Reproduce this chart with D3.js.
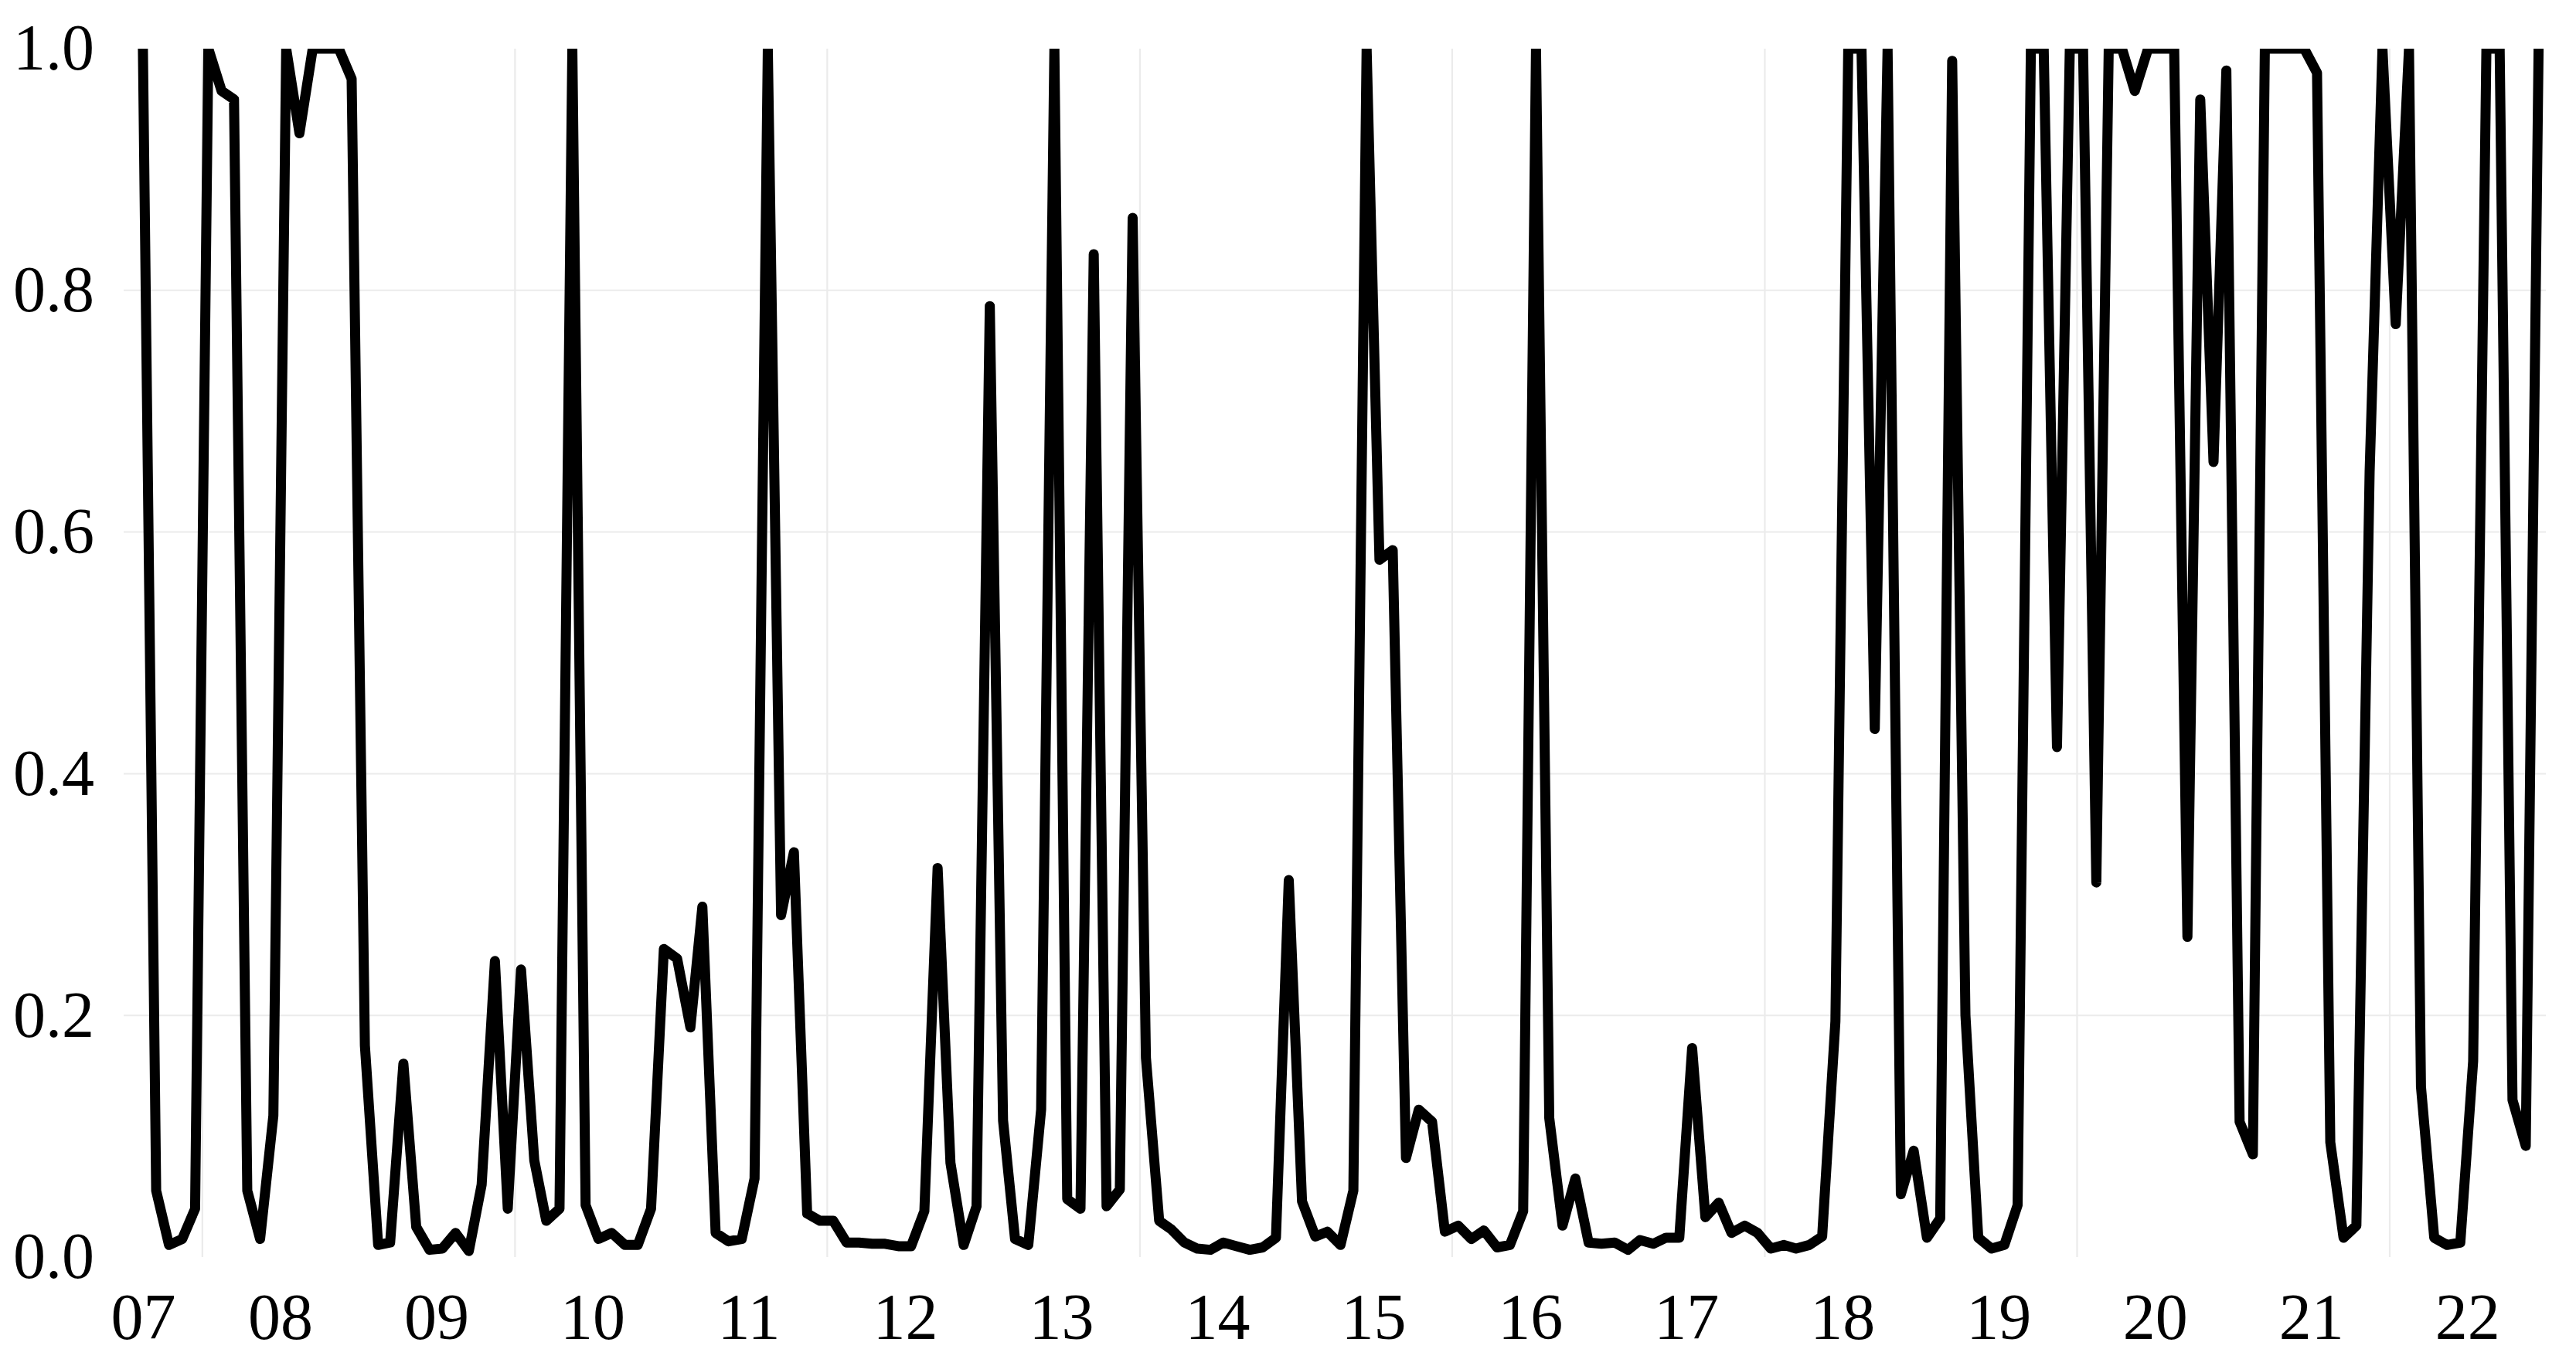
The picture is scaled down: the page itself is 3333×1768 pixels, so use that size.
<!DOCTYPE html>
<html>
<head>
<meta charset="utf-8">
<script src="https://cdn.jsdelivr.net/npm/d3@7"></script>
<style>
  html, body { margin: 0; padding: 0; background: #ffffff; }
  svg { display: block; }
</style>
</head>
<body>
<svg id="chart" width="3333" height="1768"></svg>
<script>
// ---------------- data ----------------
// monthly series, first observation August 2007, last December 2022
const startYear = 2007;
const startMonthIndex = 7; // August (0-based)
const values = [
  1.0, 0.055, 0.01, 0.015, 0.04, 1.0, 0.965, 0.958, 0.055, 0.015,
  0.117, 1.0, 0.93, 1.0, 1.0, 1.0, 0.975, 0.175, 0.01, 0.012,
  0.16, 0.025, 0.006, 0.007, 0.02, 0.005, 0.06, 0.245, 0.04, 0.238,
  0.08, 0.03, 0.04, 1.0, 0.043, 0.015, 0.02, 0.01, 0.01, 0.04,
  0.255, 0.247, 0.19, 0.29, 0.02, 0.013, 0.015, 0.065, 1.0, 0.283,
  0.335, 0.036, 0.03, 0.03, 0.012, 0.012, 0.011, 0.011, 0.009, 0.009,
  0.038, 0.322, 0.078, 0.01, 0.042, 0.787, 0.113, 0.015, 0.01, 0.122,
  1.0, 0.048, 0.04, 0.83, 0.042, 0.056, 0.86, 0.165, 0.03, 0.023,
  0.012, 0.007, 0.006, 0.012, 0.009, 0.006, 0.008, 0.016, 0.312, 0.046,
  0.017, 0.021, 0.01, 0.055, 1.0, 0.577, 0.585, 0.082, 0.122, 0.112,
  0.021, 0.026, 0.015, 0.022, 0.008, 0.01, 0.038, 1.0, 0.115, 0.026,
  0.065, 0.012, 0.011, 0.012, 0.006, 0.014, 0.011, 0.016, 0.016, 0.173,
  0.033, 0.045, 0.02, 0.026, 0.02, 0.007, 0.01, 0.007, 0.01, 0.017,
  0.195, 1.0, 1.0, 0.437, 1.0, 0.052, 0.088, 0.016, 0.032, 0.99,
  0.2, 0.016, 0.007, 0.01, 0.043, 1.0, 1.0, 0.422, 1.0, 1.0,
  0.31, 1.0, 1.0, 0.965, 1.0, 1.0, 1.0, 0.265, 0.958, 0.658,
  0.982, 0.112, 0.085, 1.0, 1.0, 1.0, 1.0, 0.98, 0.095, 0.016,
  0.026, 0.65, 1.0, 0.772, 1.0, 0.141, 0.016, 0.01, 0.012, 0.162,
  1.0, 1.0, 0.13, 0.092, 1.0
];
const tickYears = [2007, 2008, 2009, 2010, 2011, 2012, 2013, 2014, 2015, 2016, 2017, 2018, 2019, 2020, 2021, 2022];
const tickLabels = ["07", "08", "09", "10", "11", "12", "13", "14", "15", "16", "17", "18", "19", "20", "21", "22"];
const gridYears = [2008, 2010, 2012, 2014, 2016, 2018, 2020, 2022];
const yTicks = [0.0, 0.2, 0.4, 0.6, 0.8, 1.0];
const yGrid = [0.2, 0.4, 0.6, 0.8];

// ---------------- layout ----------------
const W = 3333, H = 1768;
const panel = { left: 160, right: 3294, top: 63, bottom: 1627 };
const FONT = "'Liberation Serif', 'Times New Roman', Times, serif";
const FS = 84;

const data = values.map((v, i) => ({ date: new Date(startYear, startMonthIndex + i, 15), value: v }));
const firstDate = data[0].date;

const x = d3.scaleTime()
  .domain([new Date(2007, 6, 1), new Date(2023, 0, 1)])
  .range([panel.left, panel.right]);
const y = d3.scaleLinear().domain([0, 1]).range([panel.bottom, panel.top]);

const svg = d3.select("#chart");
svg.append("rect").attr("width", W).attr("height", H).attr("fill", "#ffffff");

// gridlines
const grid = svg.append("g").attr("class", "grid");
grid.selectAll("line.h").data(yGrid).enter().append("line")
  .attr("x1", panel.left).attr("x2", panel.right)
  .attr("y1", d => y(d)).attr("y2", d => y(d))
  .attr("stroke", "#ebebeb").attr("stroke-width", 2);
grid.selectAll("line.v").data(gridYears).enter().append("line")
  .attr("x1", d => x(new Date(d, 0, 1))).attr("x2", d => x(new Date(d, 0, 1)))
  .attr("y1", panel.top).attr("y2", panel.bottom)
  .attr("stroke", "#ebebeb").attr("stroke-width", 2.2);

// clip
svg.append("clipPath").attr("id", "clip")
  .append("rect")
  .attr("x", panel.left).attr("y", panel.top)
  .attr("width", panel.right - panel.left).attr("height", panel.bottom - panel.top);

// line
const line = d3.line().x(d => x(d.date)).y(d => y(d.value));
svg.append("path")
  .datum(data)
  .attr("clip-path", "url(#clip)")
  .attr("d", line)
  .attr("fill", "none")
  .attr("stroke", "#000000")
  .attr("stroke-width", 13)
  .attr("stroke-linejoin", "round")
  .attr("stroke-linecap", "butt");

// y axis
const yAxis = d3.axisLeft(y).tickValues(yTicks).tickFormat(d3.format(".1f")).tickSize(0).tickPadding(38);
const gy = svg.append("g").attr("transform", `translate(${panel.left},0)`).call(yAxis);
gy.select(".domain").remove();
gy.selectAll("text").attr("font-family", FONT).attr("font-size", FS).attr("fill", "#000000");

// x axis
const tickDates = tickYears.map(yr => {
  const mid = new Date(yr, 6, 1);
  return mid < firstDate ? firstDate : mid;
});
const labelOf = new Map(tickDates.map((d, i) => [+d, tickLabels[i]]));
const xAxis = d3.axisBottom(x).tickValues(tickDates).tickFormat(d => labelOf.get(+d)).tickSize(0).tickPadding(46);
const gx = svg.append("g").attr("transform", `translate(0,${panel.bottom})`).call(xAxis);
gx.select(".domain").remove();
gx.selectAll("text").attr("font-family", FONT).attr("font-size", FS).attr("fill", "#000000");
</script>
</body>
</html>
